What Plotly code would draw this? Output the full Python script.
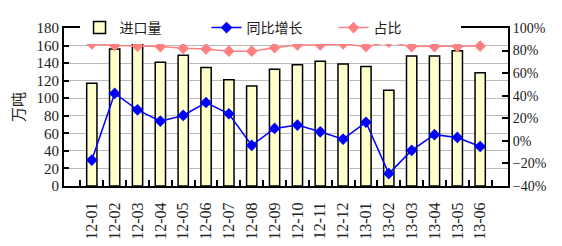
import plotly.graph_objects as go

months = ["12-01","12-02","12-03","12-04","12-05","12-06","12-07","12-08","12-09",
          "12-10","12-11","12-12","13-01","13-02","13-03","13-04","13-05","13-06"]
imports = [117, 156, 164, 141, 149, 135, 121, 114, 133, 138, 142, 139, 136, 109, 148, 148, 154, 129]
yoy = [-17, 42, 27.5, 17.5, 22.5, 34, 24, -4, 11, 14, 8, 1.5, 16.5, -29, -8.5, 5.5, 3, -5]
share = [86, 84.5, 84, 83.5, 82, 81.5, 79.5, 79.5, 82.5, 85, 85, 86, 83.5, 87.5, 83.5, 83.5, 83.5, 84]

serif = "Liberation Serif, Times New Roman, serif"
cjk = "Noto Sans CJK SC"

fig = go.Figure()
fig.add_trace(go.Bar(x=months, y=imports, name="进口量", width=0.45,
                     marker=dict(color="#FFFFCC", line=dict(color="black", width=1.5)),
                     yaxis="y"))
fig.add_trace(go.Scatter(x=months, y=yoy, name="同比增长", mode="lines+markers",
                         line=dict(color="#0000FF", width=1.5),
                         marker=dict(symbol="diamond", size=9, color="#0000FF"),
                         yaxis="y2"))
fig.add_trace(go.Scatter(x=months, y=share, name="占比", mode="lines+markers",
                         line=dict(color="#FF8080", width=1.5),
                         marker=dict(symbol="diamond", size=9, color="#FF8080"),
                         yaxis="y2"))

fig.update_layout(
    width=562, height=246,
    margin=dict(l=64, r=54, t=16, b=60),
    paper_bgcolor="white", plot_bgcolor="white",
    showlegend=True,
    legend=dict(orientation="h", x=0.035, xanchor="left", y=1.0, yanchor="middle",
                bgcolor="white", font=dict(family=cjk, size=14, color="#222"),
                entrywidth=82, entrywidthmode="pixels", tracegroupgap=0),
    xaxis=dict(type="category", tickangle=-90, tickfont=dict(family=serif, size=16, color="#222"),
               showline=True, linecolor="black", linewidth=2, mirror=True,
               ticks="inside", tickson="boundaries", ticklen=6, tickcolor="black", tickwidth=2,
               ticklabelstandoff=8, showgrid=False, automargin=False),
    yaxis=dict(range=[0, 180], dtick=20, tickfont=dict(family=serif, size=15, color="#222"),
               showline=True, linecolor="black", linewidth=2, automargin=False,
               ticks="inside", ticklen=5, tickcolor="black", tickwidth=2,
               showgrid=True, gridcolor="#BBBBBB", gridwidth=1,
               title=dict(text="万吨", font=dict(family=cjk, size=15, color="#222"), standoff=8)),
    yaxis2=dict(range=[-40, 100], dtick=20, overlaying="y", side="right",
                ticksuffix="%", tickfont=dict(family=serif, size=14, color="#222"),
                showline=True, linecolor="black", linewidth=2, automargin=False,
                ticks="inside", ticklen=6, tickcolor="black", tickwidth=2,
                showgrid=False, zeroline=False),
)

fig.write_html("out.html")
